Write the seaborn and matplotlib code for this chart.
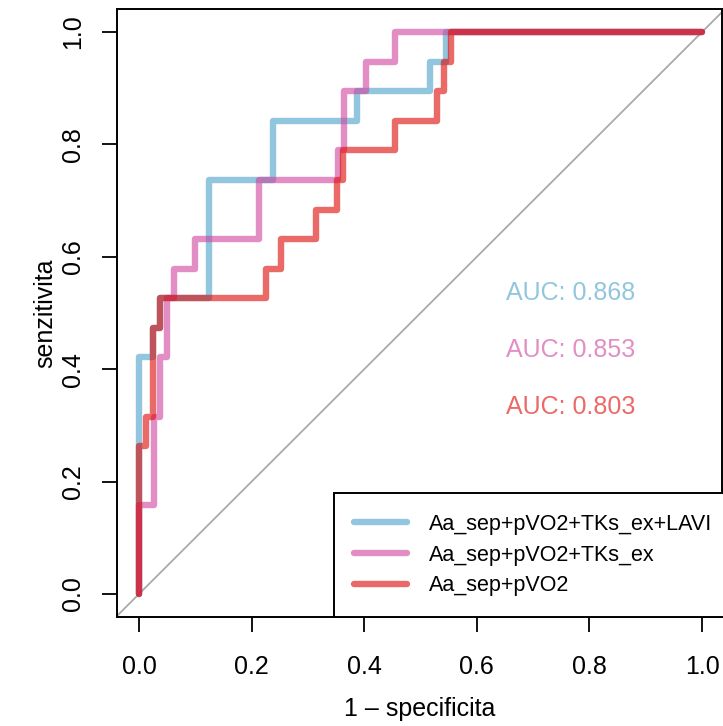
import numpy as np
import pandas as pd
import matplotlib
matplotlib.use("Agg")
import matplotlib.pyplot as plt
import seaborn as sns

# ROC step curves (19 positives)
models = ["Aa_sep+pVO2+TKs_ex+LAVI", "Aa_sep+pVO2+TKs_ex", "Aa_sep+pVO2"]
auc_labels = ["AUC: 0.868", "AUC: 0.853", "AUC: 0.803"]

fpr_lavi = [0, 0, 0.025, 0.025, 0.0375, 0.0375, 0.125, 0.125, 0.2375, 0.2375,
            0.3875, 0.3875, 0.5175, 0.5175, 0.545, 0.545, 1.0]
tpr_lavi = [0, 8, 8, 9, 9, 10, 10, 14, 14, 16, 16, 17, 17, 18, 18, 19, 19]

fpr_tks = [0, 0, 0.027, 0.027, 0.0375, 0.0375, 0.05, 0.05, 0.0625, 0.0625, 0.1, 0.1,
           0.2125, 0.2125, 0.353, 0.353, 0.3645, 0.3645, 0.403, 0.403, 0.455, 0.455, 1.0]
tpr_tks = [0, 3, 3, 6, 6, 8, 8, 10, 10, 11, 11, 12, 12, 14, 14, 15, 15, 17, 17, 18,
           18, 19, 19]

fpr_pvo2 = [0, 0, 0.0125, 0.0125, 0.025, 0.025, 0.0375, 0.0375, 0.225, 0.225, 0.252,
            0.252, 0.3145, 0.3145, 0.352, 0.352, 0.3625, 0.3625, 0.455, 0.455, 0.53,
            0.53, 0.5425, 0.5425, 0.555, 0.555, 1.0]
tpr_pvo2 = [0, 5, 5, 6, 6, 9, 9, 10, 10, 11, 11, 12, 12, 13, 13, 14, 14, 15, 15, 16,
            16, 17, 17, 18, 18, 19, 19]
n_pos = 19

colors = ["#49A0CB", "#CF439D", "#DC0703"]
alpha = 0.6
lw = 4.6

frames = []
for name, fx, ty in zip(models, [fpr_lavi, fpr_tks, fpr_pvo2],
                        [tpr_lavi, tpr_tks, tpr_pvo2]):
    frames.append(pd.DataFrame({"fpr": fx, "tpr": np.array(ty) / n_pos,
                                "model": name}))
df = pd.concat(frames, ignore_index=True)

sns.set_style("white")
plt.rcParams["font.family"] = ["Liberation Sans", "DejaVu Sans"]
plt.rcParams.update({"text.color": "black", "axes.labelcolor": "black",
                     "xtick.color": "black", "ytick.color": "black"})

W, H = 723, 726
fig = plt.figure(figsize=(W / 100, H / 100), dpi=100)
# axes box in pixels: left 116.7, right 722, top 9, bottom 616.7
ax = fig.add_axes([116.7 / W, 1 - 616.7 / H, (722 - 116.7) / W, (616.7 - 9) / H])

ax.axline((0, 0), (1, 1), color="#AAAAAA", lw=1.3, zorder=1)

sns.lineplot(data=df, x="fpr", y="tpr", hue="model", hue_order=models,
             palette=dict(zip(models, colors)), sort=False, estimator=None,
             lw=lw, alpha=alpha, solid_capstyle="round",
             solid_joinstyle="round", ax=ax, zorder=2)

ax.set_xlim(-0.0396, 1.0355)
ax.set_ylim(-0.0404, 1.041)
ticks = [0, 0.2, 0.4, 0.6, 0.8, 1.0]
tick_labels = ["0.0", "0.2", "0.4", "0.6", "0.8", "1.0"]
ax.set_xticks(ticks, tick_labels)
ax.set_yticks(ticks, tick_labels)
ax.tick_params(axis="both", direction="out", length=11, width=1.3,
               labelsize=18, color="black", labelcolor="black",
               bottom=True, left=True)
ax.tick_params(axis="x", pad=16.5)
ax.tick_params(axis="y", pad=11.5)
for lab in ax.get_yticklabels():
    lab.set_rotation(90)
    lab.set_va("center")
for sp in ax.spines.values():
    sp.set_color("black")
    sp.set_linewidth(1.4)

ax.set_xlabel("1 \u2013 specificita", fontsize=18, labelpad=13)
ax.set_ylabel("senzitivita", fontsize=18, labelpad=3)

for txt, col, yy in zip(auc_labels, colors, [0.535, 0.434, 0.333]):
    ax.text(0.767, yy, txt, color=col, alpha=alpha, fontsize=18,
            ha="center", va="center")

handles, labels = ax.get_legend_handles_labels()
ax.get_legend().remove()
leg = ax.legend(handles, labels, loc="lower left",
                bbox_to_anchor=(0.359, 0, 0.7, 0.2085), mode="expand",
                borderaxespad=0, fontsize=15.5, frameon=True, fancybox=False,
                framealpha=1, edgecolor="black", handlelength=2.45,
                handletextpad=1.0, labelspacing=0.45, borderpad=0.95)
leg.get_frame().set_linewidth(1.4)
for h in leg.get_lines():
    h.set_linewidth(lw)
    h.set_alpha(alpha)
    h.set_solid_capstyle("round")

fig.savefig("out.png", dpi=100)
